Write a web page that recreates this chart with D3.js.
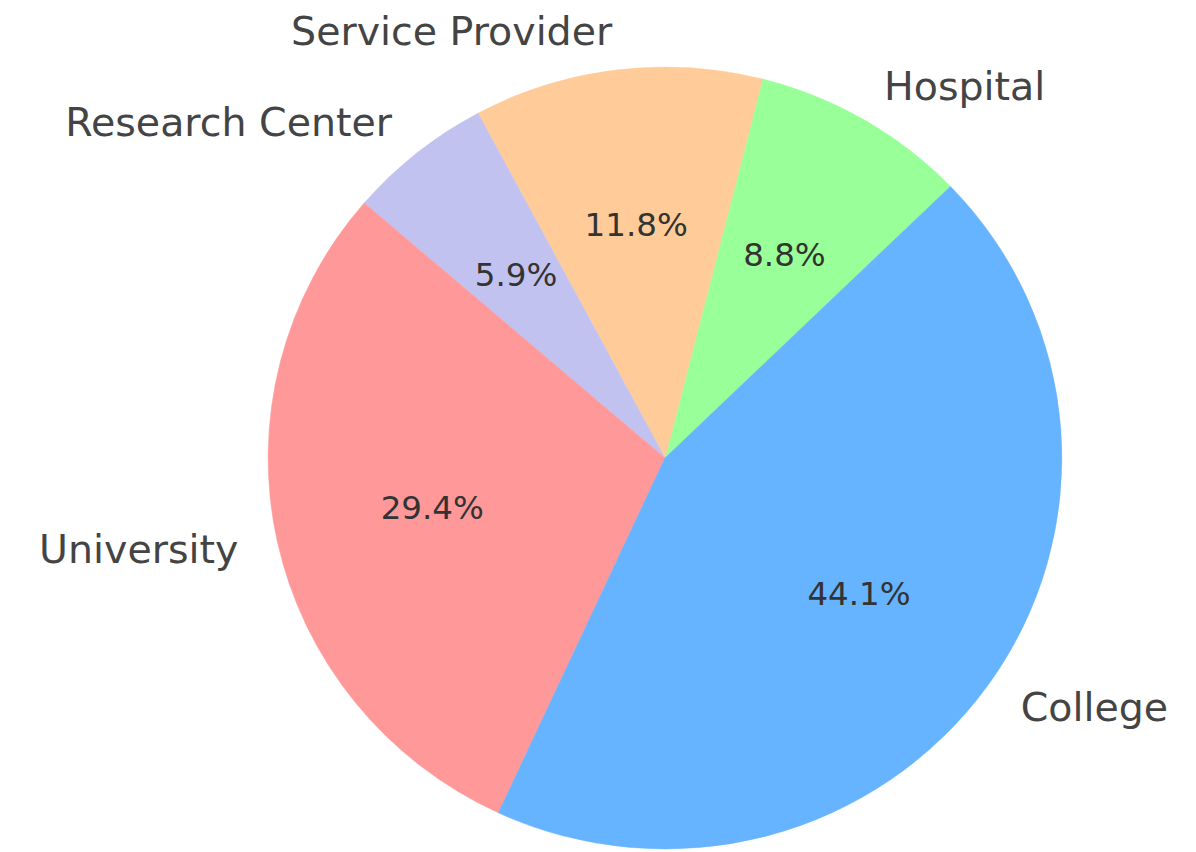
<html>
<head>
    <script src="https://d3js.org/d3.v7.min.js"></script>
    <style>
        body { margin: 0; background: white; }
    </style>
</head>
<body>
    <svg id="PieChart" width="1196" height="852"></svg>
    <script>
        // slices in counter-clockwise order, starting at the Hospital / College edge
        const categories = ["Hospital", "Service Provider", "Research Center", "University", "College"];
        const counts = [3, 4, 2, 10, 15];
        const colors = ["#99ff99", "#ffcc99", "#c2c2f0", "#ff9999", "#66b3ff"];

        const svg = d3.select("#PieChart");
        const cx = 665, cy = 458;
        const radius = 391;
        const xStretch = 1.015;
        const startDeg = 44; // matplotlib style angle, ccw from 3 o'clock

        const data = categories.map((c, i) => ({name: c, value: counts[i], color: colors[i]}));
        const total = d3.sum(counts);

        // d3 angles run clockwise from 12 o'clock, so go negative for ccw
        const start = (90 - startDeg) * Math.PI / 180;
        const pie = d3.pie().value(d => d.value).sort(null)
            .startAngle(start).endAngle(start - 2 * Math.PI);

        const arc = d3.arc().innerRadius(0).outerRadius(radius);

        const g = svg.append("g")
            .attr("transform", "translate(" + cx + "," + cy + ") scale(" + xStretch + ",1)");

        const slices = pie(data);

        g.selectAll("path.slice")
            .data(slices)
            .join("path")
            .attr("class", "slice")
            .attr("d", arc)
            .attr("fill", d => d.data.color)
            .attr("stroke", d => d.data.color)
            .attr("stroke-width", 0.5);

        const midPoint = (d, k) => {
            const a = (d.startAngle + d.endAngle) / 2;
            return [cx + Math.sin(a) * radius * k * xStretch, cy - Math.cos(a) * radius * k];
        };

        // percentages
        svg.selectAll("text.pct")
            .data(slices)
            .join("text")
            .attr("class", "pct")
            .attr("x", d => midPoint(d, 0.6)[0])
            .attr("y", d => midPoint(d, 0.6)[1])
            .attr("text-anchor", "middle")
            .attr("dominant-baseline", "central")
            .style("font-family", "DejaVu Sans")
            .style("font-size", "32.5px")
            .style("fill", "#333")
            .text(d => (d.value / total * 100).toFixed(1) + "%");

        // labels outside
        svg.selectAll("text.label")
            .data(slices)
            .join("text")
            .attr("class", "label")
            .attr("x", d => midPoint(d, 1.1)[0])
            .attr("y", d => midPoint(d, 1.1)[1])
            .attr("text-anchor", d => midPoint(d, 1.1)[0] > cx ? "start" : "end")
            .attr("dominant-baseline", "central")
            .style("font-family", "DejaVu Sans")
            .style("font-size", "39.5px")
            .style("fill", "#444")
            .text(d => d.data.name);
    </script>
</body>
</html>
